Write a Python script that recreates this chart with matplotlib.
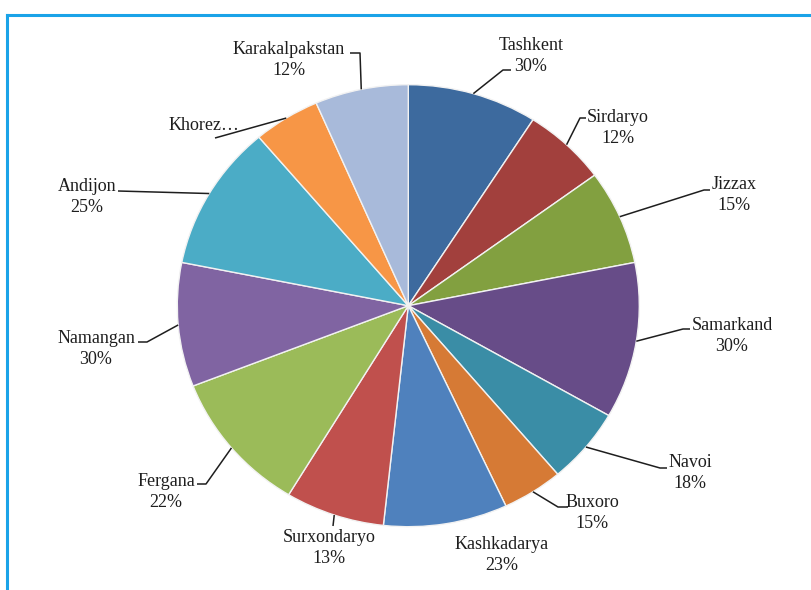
import numpy as np
import matplotlib.pyplot as plt
from matplotlib.lines import Line2D

# regions, clockwise from 12 o'clock
regions = ['Tashkent', 'Sirdaryo', 'Jizzax', 'Samarkand', 'Navoi', 'Buxoro',
           'Kashkadarya', 'Surxondaryo', 'Fergana', 'Namangan', 'Andijon',
           'Khorez\u2026', 'Karakalpakstan']
shares = [32.7, 21.1, 24.9, 41.1, 19.9, 15.3, 31.2, 25.0, 37.5, 32.6, 38.4, 16.8, 23.5]
pct_labels = ['30%', '12%', '15%', '30%', '18%', '15%', '23%', '13%', '22%',
              '30%', '25%', None, '12%']
colors = ['#3D6A9E', '#A2403D', '#82A040', '#674C88', '#3A8DA6', '#D67A35',
          '#4F81BD', '#C0504D', '#9BBB59', '#8064A2', '#4BACC6', '#F79646',
          '#A8BADA']

W, H = 811, 590
cx, cy, rx, ry = 408.3, 305.7, 231.0, 221.0


def px(x, y):
    # pixel position -> pie data units
    return (x - cx) / rx, (cy - y) / ry


# label centres and leader elbows in pixels
label_pos = [(531, 56), (618, 128), (734, 195), (732, 336), (690, 473),
             (592, 513), (502, 555), (329, 548), (166, 492), (96, 349),
             (87, 197), (204, 126), (289, 60)]
leaders = [[(503, 70), (511, 70)],
           [(580, 118), (586, 118)],
           [(704, 190), (710, 190)],
           [(683, 329), (690, 329)],
           [(660, 468), (667, 468)],
           [(558, 507), (568, 507)],
           None,
           [(333, 526)],
           [(206, 484), (197, 484)],
           [(147, 342), (138, 342)],
           [(118, 191)],
           [(215, 138)],
           [(360, 53), (350, 53)]]

fig = plt.figure(figsize=(W / 100, H / 100), dpi=100)
ax = fig.add_axes([0, 0, 1, 1])

wedges, _ = ax.pie(shares, colors=colors, startangle=90, counterclock=False,
                   radius=1, wedgeprops=dict(edgecolor='#f2f2f2', linewidth=1.0))
ax.set_aspect('auto')
ax.set_xlim(-cx / rx, (W - cx) / rx)
ax.set_ylim(-(H - cy) / ry, cy / ry)
ax.axis('off')

font = dict(family='Liberation Serif', fontsize=13, color='#1e1e1e')

for w, name, pct, pos, elbow in zip(wedges, regions, pct_labels, label_pos, leaders):
    mid = np.deg2rad((w.theta1 + w.theta2) / 2)
    start = (np.cos(mid), np.sin(mid))
    if elbow:
        pts = [start] + [px(*p) for p in elbow]
        xs, ys = zip(*pts)
        ax.plot(xs, ys, color='#1e1e1e', lw=1.1, solid_capstyle='butt')
    text = name if pct is None else f'{name}\n{pct}'
    tx, ty = px(*pos)
    ax.text(tx, ty, text, ha='center', va='center', multialignment='center',
            linespacing=1.3, **font)

# frame lines along the top and left edge
fig.add_artist(Line2D([7 / W, 1], [1 - 15 / H, 1 - 15 / H], color='#1AA3E8', lw=2.2))
fig.add_artist(Line2D([7 / W, 7 / W], [0, 1 - 15 / H], color='#1AA3E8', lw=2.2))

fig.savefig('out.png', dpi=100, facecolor='white')
